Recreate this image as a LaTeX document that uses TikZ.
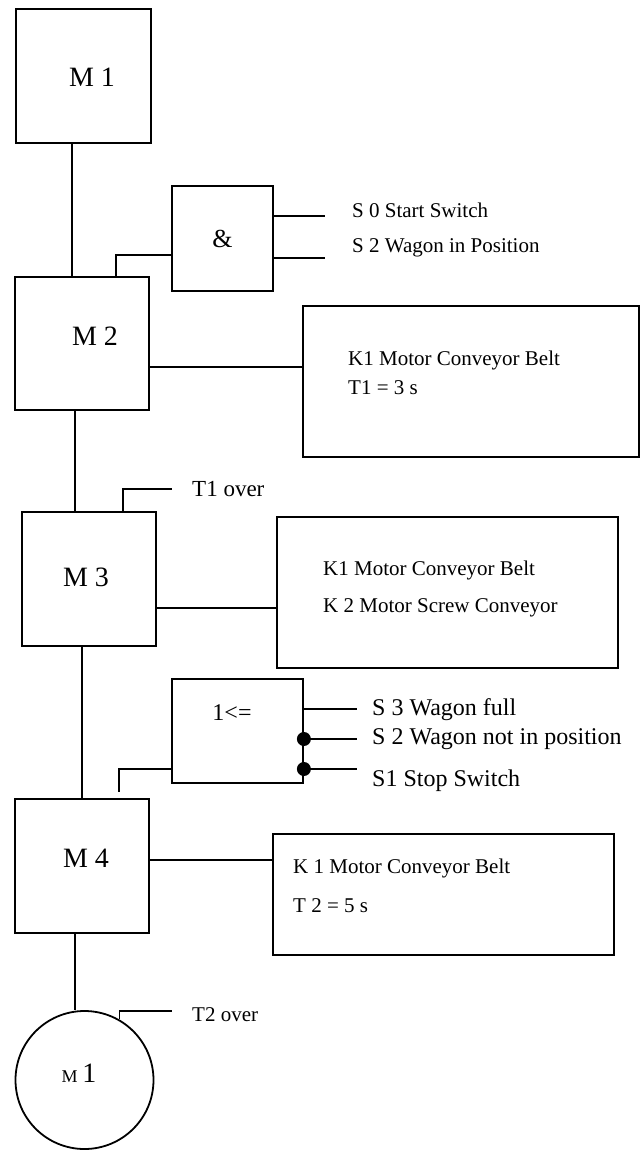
\documentclass[tikz,border=0pt]{standalone}
\usepackage{fontspec}
\setmainfont{Liberation Serif}
\usetikzlibrary{positioning,calc}
\newcommand{\setfs}[1]{\fontsize{#1}{#1}\selectfont}
\tikzset{
  block/.style={draw, line width=1.8pt, inner sep=0pt},
  wire/.style={line width=1.8pt},
  sig/.style={anchor=west, inner sep=0pt, font=\setfs{21}},
  steplabel/.style={inner sep=0pt, font=\setfs{28}},
  negdot/.style={circle, fill, inner sep=0pt, minimum size=14pt},
}

\begin{document}
\begin{tikzpicture}[x=1pt,y=-1pt]
  \useasboundingbox (0,0) rectangle (641,1151);
  % steps
  \node[block, minimum width=135, minimum height=134] (m1) at (83.5,76) {};
  \node[block, minimum width=134, minimum height=133] (m2) at (82,343.5) {};
  \node[block, minimum width=134, minimum height=134] (m3) at (89,579) {};
  \node[block, minimum width=134, minimum height=134] (m4) at (82,866) {};
  \node[block, circle, minimum size=138] (stop) at (84.5,1080) {};
  \node[steplabel] (m1t) at (92,77) {M 1};
  \node[steplabel] (m2t) at (95,336) {M 2};
  \node[steplabel] (m3t) at (86,577) {M 3};
  \node[steplabel] (m4t) at (86,858) {M 4};
  \node[inner sep=0pt] (stopt) at (79,1073) {{\setfs{18}M }{\setfs{28}1}};

  % gates
  \node[block, minimum width=101, minimum height=105, font=\setfs{26}] (and) at (222.5,238.5) {\&};
  \node[block, minimum width=131, minimum height=104] (or) at (237.5,731) {};
  \node[inner sep=0pt, font=\setfs{24}] (ort) at (232,713) {1<=};

  % actions
  \node[block, minimum width=336, minimum height=151] (act1) at (471,381.5) {};
  \node[block, minimum width=341, minimum height=151] (act2) at (447.5,592.5) {};
  \node[block, minimum width=341, minimum height=121] (act3) at (443.5,894.5) {};
  \node[sig] (a1a) at (348,360) {K1 Motor Conveyor Belt};
  \node[sig] (a1b) at (348,388) {T1 = 3 s};
  \node[sig] (a2a) at (323,570) {K1 Motor Conveyor Belt};
  \node[sig] (a2b) at (323,608) {K 2 Motor Screw Conveyor};
  \node[sig] (a3a) at (293,868) {K 1 Motor Conveyor Belt};
  \node[sig] (a3b) at (293,906) {T 2 = 5 s};

  % signals
  \coordinate (s0end) at (325,216);
  \coordinate (s2end) at (325,258);
  \coordinate (t1end) at (172,489);
  \coordinate (s3end) at (357,709);
  \coordinate (s2nend) at (357,739);
  \coordinate (s1end) at (357,769);
  \coordinate (orout) at (119,792);
  \coordinate (t2end) at (172,1011);
  \node[sig] (s0) at (352,210) {S 0 Start Switch};
  \node[sig] (s2) at (352,248) {S 2 Wagon in Position};
  \node[sig, font=\setfs{23}] (t1) at (192,489) {T1 over};
  \node[sig, font=\setfs{24}] (s3) at (372,710) {S 3 Wagon full};
  \node[sig, font=\setfs{24}] (s2n) at (372,739) {S 2 Wagon not in position};
  \node[sig, font=\setfs{24}] (s1) at (372,781) {S1 Stop Switch};
  \node[sig] (t2) at (192,1015) {T2 over};
  \node[negdot] (neg2) at (or.east |- s2nend) {};
  \node[negdot] (neg1) at (or.east |- s1end) {};

  % connections
  \draw[wire] (m1.south -| 72,0) -- (m2.north -| 72,0);
  \draw[wire] (and.west |- 0,255) -| (m2.north -| 116,0);
  \draw[wire] (and.east |- s0end) -- (s0end);
  \draw[wire] (and.east |- s2end) -- (s2end);
  \draw[wire] (m2.east |- 0,367) -- (act1.west |- 0,367);
  \draw[wire] (m2.south -| 75,0) -- (m3.north -| 75,0);
  \draw[wire] (m3.north -| 123,0) |- (t1end);
  \draw[wire] (m3.east |- 0,608) -- (act2.west |- 0,608);
  \draw[wire] (m3.south -| 82,0) -- (m4.north -| 82,0);
  \draw[wire] (or.west |- orout) ++(0,-23) -| (orout);
  \draw[wire] (or.east |- s3end) -- (s3end);
  \draw[wire] (neg2) -- (s2nend);
  \draw[wire] (neg1) -- (s1end);
  \draw[wire] (m4.east |- 0,860) -- (act3.west |- 0,860);
  \draw[wire] (m4.south -| 75,0) -- (stop.north -| 75,0);
  \draw[wire] (stop.60) |- (t2end);
\end{tikzpicture}
\end{document}
